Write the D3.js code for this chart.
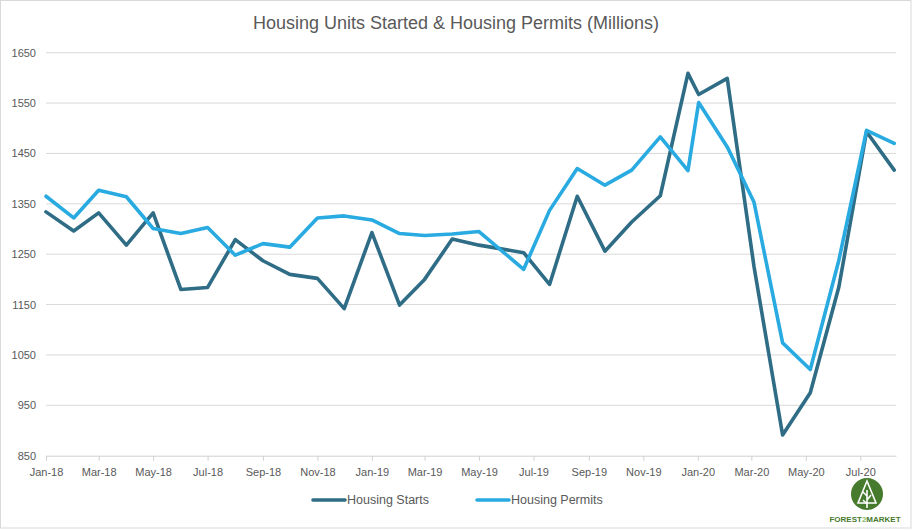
<!DOCTYPE html>
<html>
<head>
<meta charset="utf-8">
<script src="https://cdn.jsdelivr.net/npm/d3@7"></script>
<style>
  body { margin: 0; background: #fff; }
  svg { display: block; font-family: "Liberation Sans", Arial, sans-serif; }
</style>
</head>
<body>
<div id="chart"></div>
<script>
// data
var dates = ["2018-01-01", "2018-02-01", "2018-03-01", "2018-04-01", "2018-05-01", "2018-06-01",
  "2018-07-01", "2018-08-01", "2018-09-01", "2018-10-01", "2018-11-01", "2018-12-01",
  "2019-01-01", "2019-02-01", "2019-03-01", "2019-04-01", "2019-05-01", "2019-06-20",
  "2019-07-19", "2019-08-19", "2019-09-19", "2019-10-19", "2019-11-20", "2019-12-21",
  "2020-01-02", "2020-02-03", "2020-03-04", "2020-04-05", "2020-05-06", "2020-06-07",
  "2020-07-08", "2020-08-08"];
var starts = [1334, 1296, 1332, 1268, 1332, 1180, 1184, 1279, 1237, 1210, 1202, 1142,
  1293, 1149, 1200, 1280, 1268, 1253, 1190, 1365, 1256, 1314, 1366, 1609,
  1567, 1599, 1225, 891, 975, 1185, 1493, 1417];
var permits = [1365, 1322, 1377, 1364, 1301, 1291, 1303, 1248, 1271, 1264, 1322, 1326,
  1318, 1291, 1287, 1290, 1295, 1220, 1337, 1420, 1387, 1417, 1483, 1416,
  1551, 1463, 1353, 1074, 1021, 1238, 1496, 1470];
var seriesNames = ["Housing Starts", "Housing Permits"];
var xTicks = ["2018-01-01", "2018-03-01", "2018-05-01", "2018-07-01", "2018-09-01", "2018-11-01",
  "2019-01-01", "2019-03-01", "2019-05-01", "2019-07-01", "2019-09-01", "2019-11-01",
  "2020-01-01", "2020-03-01", "2020-05-01", "2020-07-01"];
var yTicks = [850, 950, 1050, 1150, 1250, 1350, 1450, 1550, 1650];
var axisStart = "2018-01-01";
var axisEnd = "2020-08-10";

var width = 914, height = 531;
var textColor = "#595959";
var color = d3.scaleOrdinal().domain(seriesNames).range(["#2f6c85", "#29abe2"]);

var parse = d3.utcParse("%Y-%m-%d");

var x = d3.scaleUtc()
  .domain([parse(axisStart), parse(axisEnd)])
  .range([46, 896]);
var y = d3.scaleLinear()
  .domain([850, 1650])
  .range([455.7, 52.7]);

var svg = d3.select("#chart").append("svg")
  .attr("width", width)
  .attr("height", height);

// outer frame
svg.append("rect")
  .attr("x", 0.5).attr("y", 0.5)
  .attr("width", 910.5).attr("height", 527.5)
  .attr("fill", "#fff")
  .attr("stroke", "#d9d9d9");

// title
svg.append("text")
  .attr("x", 456)
  .attr("y", 29)
  .attr("text-anchor", "middle")
  .attr("font-size", 18)
  .attr("fill", textColor)
  .text("Housing Units Started & Housing Permits (Millions)");

// gridlines
svg.append("g")
  .selectAll("line")
  .data(yTicks.slice(1))
  .enter().append("line")
  .attr("x1", x.range()[0])
  .attr("x2", x.range()[1])
  .attr("y1", function(d) { return y(d); })
  .attr("y2", function(d) { return y(d); })
  .attr("stroke", "#d9d9d9")
  .attr("stroke-width", 1);

// y axis labels
var yAxis = svg.append("g")
  .attr("transform", "translate(46,0)")
  .call(d3.axisLeft(y).tickValues(yTicks).tickFormat(d3.format("d")).tickSize(0).tickPadding(10));
yAxis.select(".domain").remove();
yAxis.selectAll("text")
  .attr("font-size", 11)
  .attr("font-family", "Liberation Sans, Arial, sans-serif")
  .attr("fill", textColor);

// x axis
var xAxis = svg.append("g")
  .attr("transform", "translate(0," + y(850) + ")")
  .call(d3.axisBottom(x)
    .tickValues(xTicks.map(parse))
    .tickFormat(d3.utcFormat("%b-%y"))
    .tickSize(5)
    .tickSizeOuter(0)
    .tickPadding(7.5));
xAxis.select(".domain").attr("stroke", "#d0d0d0");
xAxis.selectAll(".tick line").attr("stroke", "#d0d0d0");
xAxis.selectAll("text")
  .attr("font-size", 11)
  .attr("font-family", "Liberation Sans, Arial, sans-serif")
  .attr("fill", textColor);

// lines
var series = [
  { name: seriesNames[0], values: starts },
  { name: seriesNames[1], values: permits }
];

var line = d3.line()
  .x(function(d) { return x(d.date); })
  .y(function(d) { return y(d.value); });

svg.append("g")
  .selectAll("path")
  .data(series)
  .enter().append("path")
  .attr("fill", "none")
  .attr("stroke", function(d) { return color(d.name); })
  .attr("stroke-width", 3.6)
  .attr("stroke-linejoin", "round")
  .attr("stroke-linecap", "round")
  .attr("d", function(s) {
    return line(s.values.map(function(v, i) {
      return { date: parse(dates[i]), value: v };
    }));
  });

// legend
var legendX = [313, 477];
var legend = svg.append("g")
  .selectAll("g")
  .data(seriesNames)
  .enter().append("g")
  .attr("transform", function(d, i) {
    return "translate(" + legendX[i] + ",500)";
  });

legend.append("line")
  .attr("x1", 0)
  .attr("x2", 32)
  .attr("stroke", color)
  .attr("stroke-width", 3.6)
  .attr("stroke-linecap", "round");

legend.append("text")
  .attr("x", 34)
  .attr("dy", "0.35em")
  .attr("font-size", 12.5)
  .attr("fill", textColor)
  .text(function(d) { return d; });

// logo
var logo = svg.append("g").attr("transform", "translate(867,494)");
logo.append("circle")
  .attr("r", 16)
  .attr("fill", "#467a2c");
logo.append("path")
  .attr("d", "M0,-13 L-9,9 L9,9 Z")
  .attr("fill", "none")
  .attr("stroke", "#fff")
  .attr("stroke-width", 1.6);
logo.append("path")
  .attr("d", "M0,-4 L0,14 M0,2 L-4,-2 M0,6 L4,1 M0,10 L-4,6")
  .attr("fill", "none")
  .attr("stroke", "#fff")
  .attr("stroke-width", 1.6);
var logoText = svg.append("text")
  .attr("x", 865)
  .attr("y", 522)
  .attr("text-anchor", "middle")
  .attr("font-size", 8)
  .attr("font-weight", "bold")
  .attr("fill", "#467a2c");
logoText.append("tspan").text("FOREST");
logoText.append("tspan").attr("fill", "#8cb86a").text("2");
logoText.append("tspan").text("MARKET");
</script>
</body>
</html>
